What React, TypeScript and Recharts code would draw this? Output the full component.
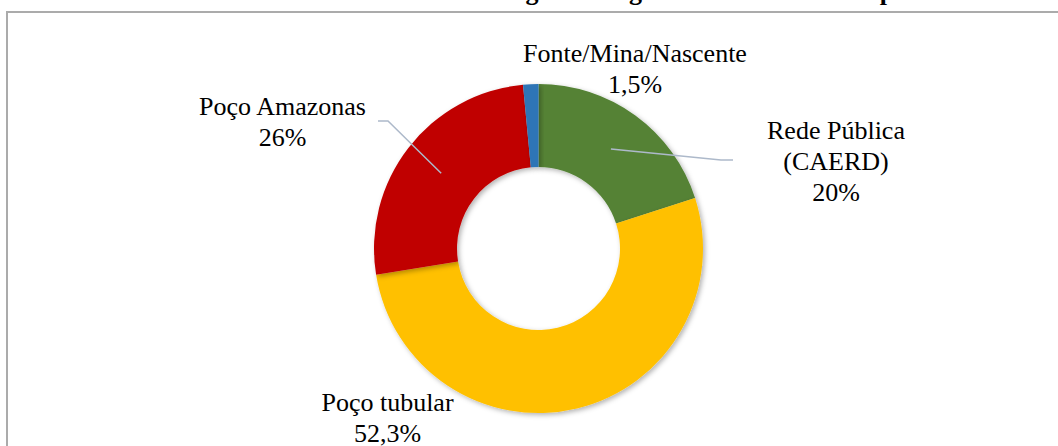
import React from 'react';
import { PieChart, Pie, Cell } from 'recharts';

const title = 'Gráfico 1 – Abastecimento de água na região urbana do município';
const categories = ['Rede Pública\n(CAERD)', 'Poço tubular', 'Poço Amazonas', 'Fonte/Mina/Nascente'];
const shares = [20, 52.3, 26, 1.5];
const sliceColors = ['#548235', '#FFC000', '#C00000', '#2E75B6'];

const data = categories.map((name, i) => ({ name, value: shares[i] }));

// hand-placed labels, offsets from the pie centre (like dragged labels in Excel)
const labelLayout: { dx: number; dy: number; line: number[][] | null }[] = [
  { dx: 297.5, dy: -109.5, line: [[182.5, -88.5], [194.5, -88.5]] },
  { dx: -151, dy: 162.5, line: null },
  { dx: -256, dy: -133.5, line: [[-150.5, -127.5], [-160.5, -127.5]] },
  { dx: 96.5, dy: -186.5, line: null },
];

const FONT = '"Liberation Serif", "Times New Roman", serif';
const RAD = Math.PI / 180;
const LINE_H = 31;

const renderLabel = (props: any) => {
  const { cx, cy, midAngle, innerRadius, outerRadius, index } = props;
  const lay = labelLayout[index];
  const lines = [...categories[index].split('\n'), `${shares[index].toLocaleString('pt-BR')}%`];
  const r = (innerRadius + outerRadius) / 2;
  const sx = cx + r * Math.cos(-midAngle * RAD);
  const sy = cy + r * Math.sin(-midAngle * RAD);
  const tx = cx + lay.dx;
  const ty = cy + lay.dy;

  return (
    <g key={`lbl-${index}`}>
      {lay.line && (
        <polyline
          points={[[sx, sy], ...lay.line.map(([x, y]) => [cx + x, cy + y])].map((p) => p.join(',')).join(' ')}
          fill="none"
          stroke="#ADB9CA"
          strokeWidth={1.5}
        />
      )}
      <text textAnchor="middle" fontFamily={FONT} fontSize={26} fill="#000">
        {lines.map((t, k) => (
          <tspan key={k} x={tx} y={ty + k * LINE_H}>
            {t}
          </tspan>
        ))}
      </text>
    </g>
  );
};

export default function App() {
  return (
    <div style={{ position: 'absolute', left: 0, top: 0, width: 1058, height: 446, overflow: 'hidden', background: '#fff' }}>
      <div
        style={{
          position: 'absolute',
          left: 6,
          top: 11,
          width: 1200,
          height: 600,
          border: '2px solid #ABABAB',
          boxSizing: 'border-box',
        }}
      />
      <svg width={1058} height={446} style={{ position: 'absolute', left: 0, top: 0 }}>
        <defs>
          <filter id="pieShadow" x="-30%" y="-30%" width="160%" height="160%">
            <feDropShadow dx="2" dy="2" stdDeviation="2.5" floodColor="#000" floodOpacity="0.3" />
          </filter>
        </defs>
        <text x={547} y={0} textAnchor="middle" fontFamily={FONT} fontWeight="bold" fontSize={26} fill="#000">
          {title}
        </text>
      </svg>
      <div style={{ position: 'absolute', left: 0, top: 0 }}>
        <PieChart width={1058} height={446} margin={{ top: 0, right: 0, bottom: 0, left: 0 }}>
          <Pie
            data={data}
            dataKey="value"
            nameKey="name"
            cx={538.5}
            cy={248.5}
            innerRadius={81.5}
            outerRadius={164.5}
            startAngle={90}
            endAngle={-270}
            stroke="none"
            label={renderLabel}
            labelLine={false}
            isAnimationActive={false}
          >
            {data.map((d, i) => (
              <Cell key={d.name} fill={sliceColors[i]} filter="url(#pieShadow)" />
            ))}
          </Pie>
        </PieChart>
      </div>
    </div>
  );
}
